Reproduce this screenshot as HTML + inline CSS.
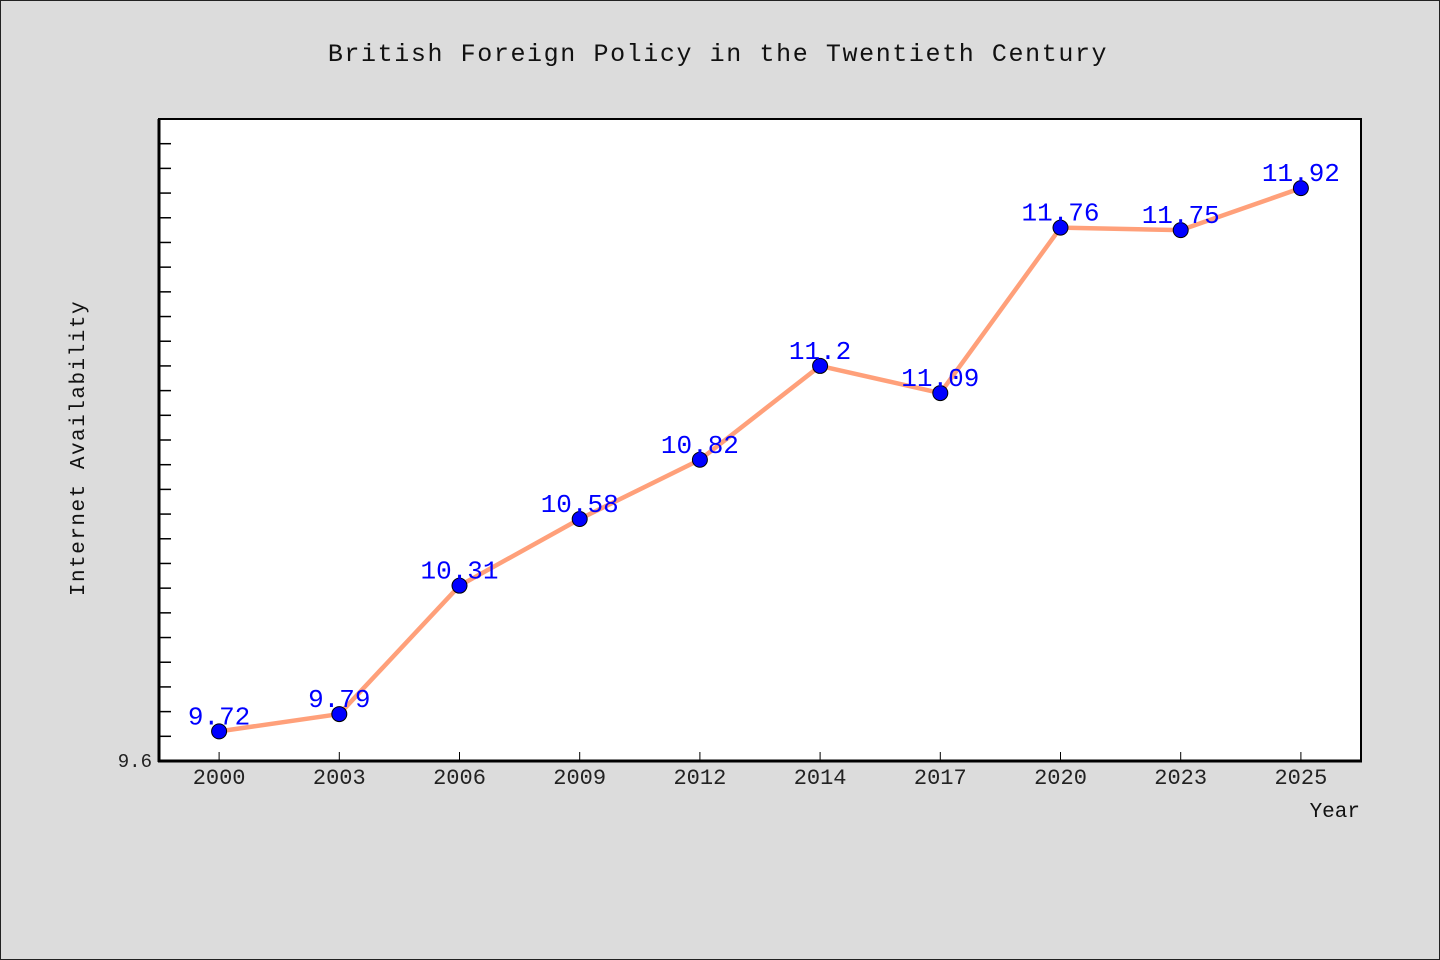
<!DOCTYPE html>
<html><head><meta charset="utf-8"><style>
html,body{margin:0;padding:0;background:#dcdcdc;}
svg{display:block;font-family:"Liberation Mono","Noto Sans CJK JP",monospace;}
</style></head><body>
<svg width="1440" height="960" viewBox="0 0 1440 960">
<rect x="0.5" y="0.5" width="1439" height="959" fill="#dcdcdc" stroke="#222" stroke-width="1"/>
<text x="718" y="61" text-anchor="middle" font-size="25" letter-spacing="1.6" fill="#111">British Foreign Policy in the Twentieth Century</text>
<rect x="159" y="119" width="1202" height="642" fill="#fff" stroke="#000" stroke-width="2"/>
<text transform="translate(84,448) rotate(-90)" text-anchor="middle" font-size="21" letter-spacing="1.5" fill="#111">Internet Availability</text>
<text x="1360" y="817" text-anchor="end" font-size="21" fill="#111">Year</text>
<g id="ticks"></g>
<g id="marks"></g>
<line x1="159" y1="119" x2="159" y2="762" stroke="#000" stroke-width="3"/>
<line x1="158" y1="761" x2="1362" y2="761" stroke="#000" stroke-width="3"/>
</svg>
<script>
const categories=["2000","2003","2006","2009","2012","2014","2017","2020","2023","2025"];
const values=[9.72,9.79,10.31,10.58,10.82,11.2,11.09,11.76,11.75,11.92];
const yMin=9.6, yMax=12.2;
const L=159,R=1361,T=119,B=761;
const NS="http://www.w3.org/2000/svg";
function x(i){return L+(R-L)/categories.length*(i+0.5);}
function y(v){return B-(v-yMin)/(yMax-yMin)*(B-T);}
const tg=document.getElementById('ticks'), mg=document.getElementById('marks');
function mk(tag,attrs,parent){const e=document.createElementNS(NS,tag);for(const k in attrs)e.setAttribute(k,attrs[k]);parent.appendChild(e);return e;}
for(let k=1;k<=25;k++){
  const v=yMin+k*0.1; const yy=y(v);
  const t=mk('line',{x1:L,x2:L+12,y1:yy,y2:yy,stroke:'#000','stroke-width':1.5},tg);
  
  
}
const yl=mk('text',{x:152,y:B+6,'text-anchor':'end','font-size':19,fill:'#222'},tg);
yl.textContent="9.6";


categories.forEach((c,i)=>{
  const t=mk('line',{x1:x(i),x2:x(i),y1:B-9,y2:B,stroke:'#000','stroke-width':1},tg);
  
  
  const lb=mk('text',{x:x(i),y:B+23,'text-anchor':'middle','font-size':22,fill:'#222'},tg);
  lb.textContent=c;
  
  
});
const pts=values.map((v,i)=>x(i)+','+y(v)).join(' ');
const pl=mk('polyline',{points:pts,fill:'none',stroke:'#ffa07a','stroke-width':4.5,'stroke-linejoin':'round'},mg);


values.forEach((v,i)=>{
  const c=mk('circle',{cx:x(i),cy:y(v),r:7.5,fill:'#0000ff',stroke:'#000','stroke-width':1},mg);
  
  
  const t=mk('text',{x:x(i),y:y(v)-7,'text-anchor':'middle','font-size':26,fill:'#0000ff'},mg);
  t.textContent=String(v);
  
  
});
</script>
</body></html>
